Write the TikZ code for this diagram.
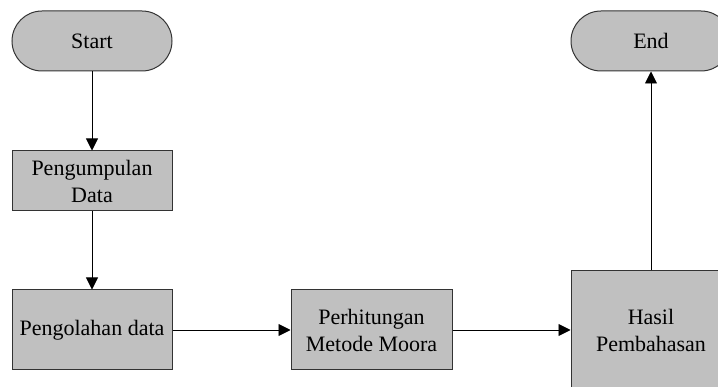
\documentclass[tikz,border=0pt]{standalone}
\usepackage{fontspec}
\setmainfont{Liberation Serif}
\usetikzlibrary{arrows.meta}
\definecolor{boxfill}{HTML}{C0C0C0}
\definecolor{edge}{HTML}{333333}
\tikzset{
  proc/.style={draw=edge, fill=boxfill, line width=1pt, rectangle,
    inner sep=0pt, align=center, font=\fontsize{22}{27}\selectfont},
  term/.style={proc, rounded corners=30pt, minimum width=160pt, minimum height=60pt},
  flow/.style={draw=black, line width=0.9pt, -{Triangle[length=12pt,width=12pt]}}
}
\begin{document}
\begin{tikzpicture}[x=1pt,y=-1pt]
  \useasboundingbox (0,0) rectangle (718,387);
  \clip (0,0) rectangle (718,387);
  \node[term] (start) at (92,41) {Start};
  \node[proc, minimum width=160pt, minimum height=60pt] (kumpul) at (92,181) {Pengumpulan\\Data};
  \node[proc, minimum width=160pt, minimum height=80pt] (olah) at (92,330) {Pengolahan data};
  \node[proc, minimum width=161pt, minimum height=80pt] (hitung) at (371.5,330) {Perhitungan\\Metode Moora};
  \node[proc, minimum width=160pt, minimum height=118pt] (hasil) at (651,330) {Hasil\\Pembahasan};
  \node[term] (end) at (651,41) {End};
  \draw[flow] (start) -- (kumpul);
  \draw[flow] (kumpul) -- (olah);
  \draw[flow] (olah) -- (hitung);
  \draw[flow] (hitung) -- (hasil);
  \draw[flow] (hasil) -- (end);
\end{tikzpicture}
\end{document}
